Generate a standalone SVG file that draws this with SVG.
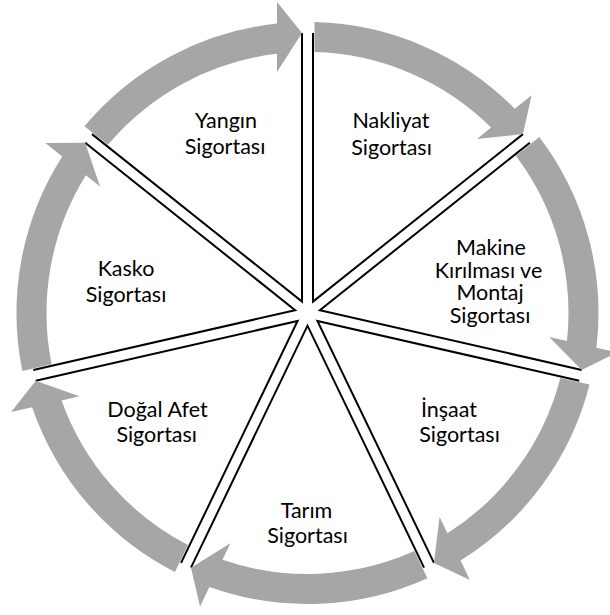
<svg xmlns="http://www.w3.org/2000/svg" width="610" height="615" viewBox="0 0 610 615">
<style>
.sep{fill:none;stroke:#000;stroke-width:2;stroke-linejoin:miter}
.arr{fill:#A6A6A6;stroke:none}
text{font-family:Lato,"Liberation Sans",sans-serif;font-size:21.5px;fill:#000;text-anchor:middle}
</style>
<rect width="610" height="615" fill="#fff"/>
<g id="separators">
<g id="n-yangin"><path class="sep" d="M92.02,134.12 L302,301.58 L302,33"/></g>
<g id="n-nakliyat"><path class="sep" d="M313,33 L313,301.58 L522.98,134.12"/></g>
<g id="n-makine"><path class="sep" d="M529.84,142.72 L319.86,310.18 L581.70,369.95"/></g>
<g id="n-insaat"><path class="sep" d="M579.26,380.67 L317.41,320.91 L433.95,562.88"/></g>
<g id="n-tarim"><path class="sep" d="M424.03,567.66 L307.5,325.68 L190.97,567.66"/></g>
<g id="n-dogal"><path class="sep" d="M181.05,562.88 L297.59,320.91 L35.74,380.67"/></g>
<g id="n-kasko"><path class="sep" d="M33.30,369.95 L295.14,310.18 L85.16,142.72"/></g>
</g>
<g id="connectors">
<path class="arr" d="M314.5,22.1 A291,291 0 0 1 514.74,108.71 L531.63,95.24 L522.98,134.12 L476.90,138.89 L491.13,127.54 A261,261 0 0 0 314.5,52.1 Z"/>
<path class="arr" d="M539.29,137.10 A291,291 0 0 1 596.43,347.66 L617.49,352.46 L581.70,369.95 L549.25,336.89 L566.99,340.94 A261,261 0 0 0 515.84,155.80 Z"/>
<path class="arr" d="M589.55,384.55 A291,291 0 0 1 460.54,560.51 L469.92,579.97 L433.95,562.88 L439.55,516.90 L447.44,533.30 A261,261 0 0 0 560.30,377.88 Z"/>
<path class="arr" d="M427.41,578.13 A291,291 0 0 1 209.42,586.97 L200.04,606.43 L190.97,567.66 L230.41,543.36 L222.52,559.76 A261,261 0 0 0 414.39,551.10 Z"/>
<path class="arr" d="M174.97,572.05 A291,291 0 0 1 32.15,407.14 L11.09,411.94 L35.74,380.67 L79.33,396.37 L61.59,400.42 A261,261 0 0 0 187.99,545.02 Z"/>
<path class="arr" d="M22.33,370.91 A291,291 0 0 1 62.22,156.41 L45.33,142.94 L85.16,142.72 L100.06,186.59 L85.83,175.24 A261,261 0 0 0 51.58,364.24 Z"/>
<path class="arr" d="M84.43,126.16 A291,291 0 0 1 277,23.6 L277,2 L302,33 L277,72 L277,53.8 A261,261 0 0 0 107.88,144.86 Z"/>
</g>
<g id="labels">
<g id="t-yangin"><text x="226" y="128.3">Yangın</text><text x="225" y="154.3">Sigortası</text></g>
<g id="t-nakliyat"><text x="391" y="128.3">Nakliyat</text><text x="391.5" y="154.5">Sigortası</text></g>
<g id="t-makine"><text x="491" y="254.5">Makine</text><text x="488.5" y="277.5">Kırılması ve</text><text x="490" y="300.3">Montaj</text><text x="490" y="322.5">Sigortası</text></g>
<g id="t-insaat"><text x="449" y="416.7">İnşaat</text><text x="459.5" y="441.7">Sigortası</text></g>
<g id="t-tarim"><text x="306.5" y="517.5">Tarım</text><text x="307.5" y="543.3">Sigortası</text></g>
<g id="t-dogal"><text x="157.5" y="416.7">Doğal Afet</text><text x="156.7" y="441.7">Sigortası</text></g>
<g id="t-kasko"><text x="126" y="276">Kasko</text><text x="126" y="301.5">Sigortası</text></g>
</g>
</svg>
